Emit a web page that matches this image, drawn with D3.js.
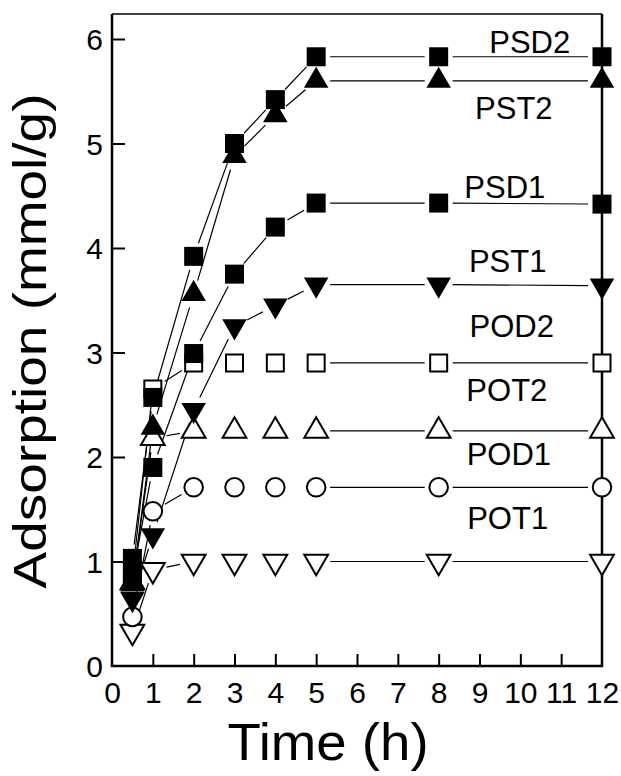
<!DOCTYPE html>
<html lang="en">
<head>
<title>Adsorption vs time</title>
<meta charset="utf-8">

<script src="https://d3js.org/d3.v7.min.js"></script>

<style type="text/css">

  body {
    margin: 0;
    background: #fff;
  }

  text {
    font-family: 'Liberation Sans', Arial, sans-serif;
    fill: #000;
  }

</style>

</head>

<body>

<div id="chart"></div>

<script>


/* Data */
/* ==== */

var times = [0.5, 1, 2, 3, 4, 5, 8, 12];

var seriesNames = ['POT1', 'POD1', 'POT2', 'POD2', 'PST1', 'PSD1', 'PST2', 'PSD2'];

var pot1 = [0.33, 0.92, 1.0, 1.0, 1.0, 1.0, 1.0, 1.0];
var pod1 = [0.47, 1.48, 1.71, 1.71, 1.71, 1.71, 1.71, 1.71];
var pot2 = [0.80, 2.18, 2.25, 2.25, 2.25, 2.25, 2.25, 2.25];
var pod2 = [0.86, 2.65, 2.90, 2.90, 2.90, 2.90, 2.90, 2.90];
var pst1 = [0.64, 1.25, 2.45, 3.25, 3.45, 3.65, 3.65, 3.64];
var psd1 = [0.86, 1.90, 2.99, 3.75, 4.20, 4.43, 4.43, 4.42];
var pst2 = [0.78, 2.28, 3.56, 4.88, 5.27, 5.60, 5.60, 5.60];
var psd2 = [1.03, 2.57, 3.92, 5.00, 5.42, 5.83, 5.83, 5.83];

var seriesValues = [pot1, pod1, pot2, pod2, pst1, psd1, pst2, psd2];

// marker shape per series
var seriesSymbols = ['triangleDown', 'circle', 'triangle', 'square', 'triangleDown', 'square', 'triangle', 'square'];
var seriesFilled = [false, false, false, false, true, true, true, true];

// where each series name is written (hours, mmol/g)
var labelTimes = [9.69, 9.72, 9.67, 9.79, 9.69, 9.62, 9.84, 10.23];
var labelValues = [1.42, 2.03, 2.64, 3.25, 3.88, 4.58, 5.34, 5.97];

var xTicks = d3.range(0, 13);
var yTicks = d3.range(0, 7);


/* Layout */
/* ====== */

var width = 621,
    height = 776;

var plot = { left: 112, right: 602, top: 14, bottom: 666 };

var x = d3.scaleLinear()
    .domain([0, 12])
    .range([plot.left, plot.right]);

var y = d3.scaleLinear()
    .domain([0, 6])
    .range([plot.bottom, 39]);

var svg = d3.select('#chart').append('svg')
    .attr('width', width)
    .attr('height', height);


/* Axes */
/* ==== */

var xAxis = d3.axisBottom(x)
    .tickValues(xTicks)
    .tickSize(-12)
    .tickFormat(d3.format('d'));

var yAxis = d3.axisLeft(y)
    .tickValues(yTicks)
    .tickSize(-13)
    .tickFormat(d3.format('d'));

var gx = svg.append('g')
    .attr('transform', 'translate(0,' + plot.bottom + ')')
    .call(xAxis);

var gy = svg.append('g')
    .attr('transform', 'translate(' + plot.left + ',0)')
    .call(yAxis);

[gx, gy].forEach(function(g) {
  g.select('.domain').remove();
  g.selectAll('.tick line')
      .attr('stroke', '#000')
      .attr('stroke-width', 2);
  g.selectAll('.tick text')
      .style('font-size', '30px');
});

// drop the end ticks that sit on the frame
gx.selectAll('.tick').filter(function(d) { return d === 0 || d === 12; }).select('line').remove();
gy.selectAll('.tick').filter(function(d) { return d === 0; }).select('line').remove();

gx.selectAll('.tick text').attr('y', 37).attr('dy', null);
gy.selectAll('.tick text').attr('x', -9).attr('dy', '0.36em');

// frame
svg.append('path')
    .attr('d', 'M' + plot.left + ',' + plot.top +
               'V' + plot.bottom + 'H' + plot.right + 'V' + plot.top)
    .attr('fill', 'none')
    .attr('stroke', '#000')
    .attr('stroke-width', 2.5);

svg.append('line')
    .attr('x1', plot.left).attr('x2', plot.right)
    .attr('y1', plot.top).attr('y2', plot.top)
    .attr('stroke', '#000')
    .attr('stroke-width', 1.5);

// axis titles
svg.append('text')
    .attr('transform', 'translate(328,760) scale(1.05,1)')
    .attr('text-anchor', 'middle')
    .style('font-size', '52px')
    .text('Time (h)');

svg.append('text')
    .attr('transform', 'translate(46,341) rotate(-90) scale(1.17,1)')
    .attr('text-anchor', 'middle')
    .style('font-size', '47px')
    .text('Adsorption (mmol/g)');


/* Lines, broken around each marker */
/* ================================ */

var gap = 14;

var lineLayer = svg.append('g');

seriesValues.forEach(function(values) {
  for (var i = 0; i < times.length - 1; i++) {
    var x1 = x(times[i]), y1 = y(values[i]),
        x2 = x(times[i + 1]), y2 = y(values[i + 1]);
    var dx = x2 - x1, dy = y2 - y1,
        len = Math.sqrt(dx * dx + dy * dy);

    // flat steps of one hour show no connecting line in the original
    if (values[i] === values[i + 1] && times[i + 1] - times[i] <= 1) continue;
    if (len <= 2 * gap) continue;

    var ux = dx / len, uy = dy / len;
    lineLayer.append('line')
        .attr('x1', x1 + ux * gap).attr('y1', y1 + uy * gap)
        .attr('x2', x2 - ux * gap).attr('y2', y2 - uy * gap)
        .attr('stroke', '#000')
        .attr('stroke-width', 1.2);
  }
});


/* Markers */
/* ======= */

var symbolPaths = {
  square: function(filled) { return d3.symbol(d3.symbolSquare, filled ? 361 : 289)(); },
  circle: function() { return d3.symbol(d3.symbolCircle, 270)(); },
  triangle: function(filled) { return d3.symbol(d3.symbolTriangle, filled ? 260 : 245)(); },
  triangleDown: function(filled) { return d3.symbol(d3.symbolTriangle, filled ? 260 : 245)(); }
};

var markerLayer = svg.append('g');

seriesValues.forEach(function(values, s) {
  var shape = seriesSymbols[s],
      filled = seriesFilled[s];

  markerLayer.append('g').selectAll('path')
      .data(times)
    .join('path')
      .attr('d', symbolPaths[shape](filled))
      .attr('transform', function(t, i) {
        return 'translate(' + x(t) + ',' + y(values[i]) + ')' +
               (shape === 'triangleDown' ? ' rotate(180)' : '');
      })
      .attr('fill', filled ? '#000' : '#fff')
      .attr('stroke', '#000')
      .attr('stroke-width', filled ? 0 : 2);
});


/* Series labels */
/* ============= */

svg.append('g').selectAll('text')
    .data(seriesNames)
  .join('text')
    .attr('x', function(d, i) { return x(labelTimes[i]); })
    .attr('y', function(d, i) { return y(labelValues[i]) + 11; })
    .attr('text-anchor', 'middle')
    .style('font-size', '31px')
    .text(function(d) { return d; });


</script>

</body>
</html>
